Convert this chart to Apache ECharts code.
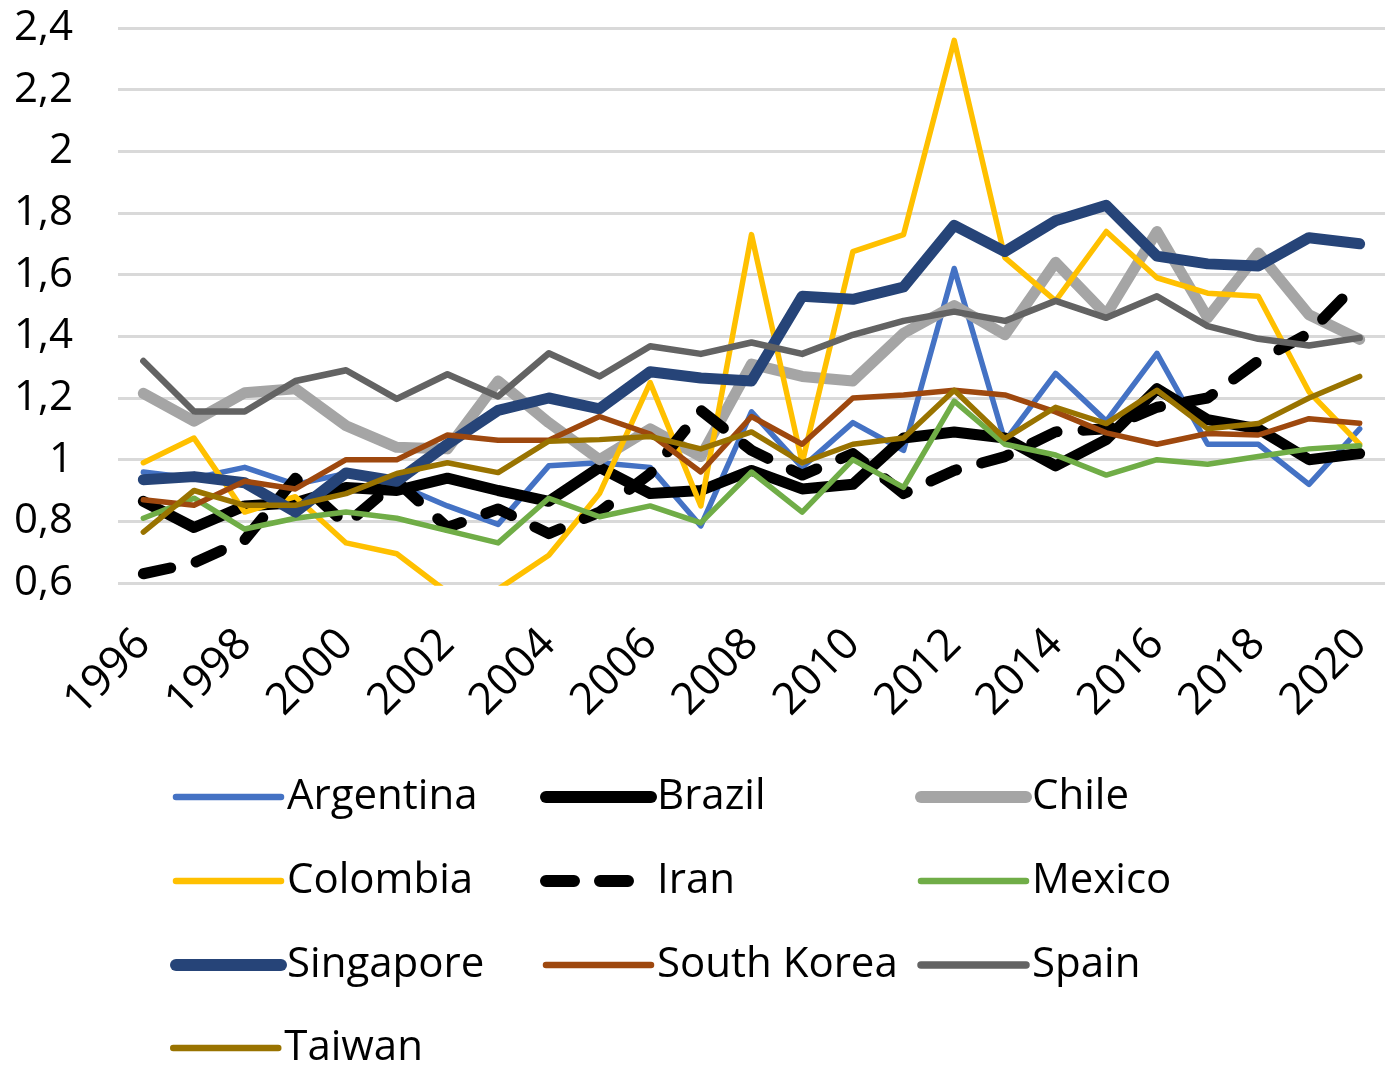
<!DOCTYPE html>
<html>
<head>
<meta charset="utf-8">
<script src="https://cdn.jsdelivr.net/npm/echarts@6/dist/echarts.min.js"></script>
<style>
  html, body { margin: 0; padding: 0; background: #fff; }
  #chart { width: 1385px; height: 1065px; }
</style>
</head>
<body>
<div id="chart"></div>
<script>
// years on the x axis
var years = ['1996', '1997', '1998', '1999', '2000', '2001', '2002', '2003', '2004', '2005', '2006', '2007', '2008',
    '2009', '2010', '2011', '2012', '2013', '2014', '2015', '2016', '2017', '2018', '2019', '2020']

// y axis ticks
var yMin = 0.6
var yMax = 2.4
var yStep = 0.2

// values
var argentina = [0.96, 0.94, 0.975, 0.92, 0.955, 0.92, 0.85, 0.79, 0.98, 0.99, 0.975, 0.785, 1.155, 0.975, 1.12, 1.03, 1.62, 1.06, 1.28, 1.125, 1.345, 1.05, 1.05, 0.92, 1.10]
var brazil = [0.865, 0.78, 0.85, 0.86, 0.91, 0.90, 0.94, 0.90, 0.865, 0.975, 0.89, 0.90, 0.965, 0.905, 0.92, 1.07, 1.09, 1.07, 0.98, 1.065, 1.23, 1.13, 1.10, 1.0, 1.02]
var chile = [1.215, 1.125, 1.217, 1.23, 1.11, 1.04, 1.035, 1.255, 1.12, 1.0, 1.1, 1.01, 1.31, 1.27, 1.255, 1.41, 1.5, 1.405, 1.64, 1.47, 1.74, 1.46, 1.67, 1.47, 1.39]
var colombia = [0.99, 1.07, 0.83, 0.88, 0.73, 0.695, 0.57, 0.58, 0.69, 0.89, 1.25, 0.85, 1.73, 0.99, 1.675, 1.73, 2.36, 1.655, 1.515, 1.74, 1.59, 1.54, 1.53, 1.22, 1.05]
var iran = [0.63, 0.665, 0.74, 0.94, 0.79, 0.93, 0.78, 0.84, 0.76, 0.83, 0.955, 1.16, 1.03, 0.95, 1.02, 0.89, 0.965, 1.01, 1.09, 1.1, 1.17, 1.2, 1.32, 1.41, 1.58]
var mexico = [0.81, 0.875, 0.775, 0.81, 0.83, 0.81, 0.77, 0.73, 0.875, 0.815, 0.85, 0.795, 0.96, 0.83, 1.0, 0.91, 1.19, 1.05, 1.015, 0.95, 1.0, 0.985, 1.01, 1.035, 1.045]
var singapore = [0.935, 0.945, 0.925, 0.83, 0.957, 0.93, 1.05, 1.16, 1.2, 1.165, 1.285, 1.265, 1.255, 1.53, 1.52, 1.56, 1.76, 1.675, 1.775, 1.825, 1.66, 1.635, 1.628, 1.72, 1.70]
var southKorea = [0.87, 0.852, 0.93, 0.905, 1.0, 1.0, 1.08, 1.063, 1.063, 1.14, 1.083, 0.96, 1.14, 1.05, 1.2, 1.21, 1.225, 1.21, 1.155, 1.087, 1.05, 1.085, 1.08, 1.133, 1.118]
var spain = [1.32, 1.156, 1.156, 1.255, 1.29, 1.197, 1.277, 1.205, 1.345, 1.27, 1.368, 1.343, 1.38, 1.343, 1.405, 1.45, 1.48, 1.45, 1.515, 1.46, 1.53, 1.433, 1.392, 1.37, 1.395]
var taiwan = [0.765, 0.9, 0.852, 0.852, 0.89, 0.955, 0.99, 0.958, 1.06, 1.065, 1.075, 1.035, 1.09, 0.99, 1.05, 1.07, 1.225, 1.068, 1.17, 1.117, 1.225, 1.1, 1.117, 1.2, 1.27]

var font = 'Open Sans'
var thin = 5.5
var thick = 11
var irDash = [28, 26]

function line(name, data, color, width, dash) {
    return {
        name: name,
        type: 'line',
        data: data,
        symbol: 'none',
        smooth: false,
        lineStyle: { color: color, width: width, type: dash || 'solid', cap: 'round', join: 'round' },
        itemStyle: { color: color },
        emphasis: { disabled: true }
    }
}

// one legend column, items are [name, width, dash]
function legendCol(left, top, items) {
    return {
        orient: 'vertical',
        left: left,
        top: top,
        padding: 0,
        itemWidth: 105,
        itemHeight: 14,
        itemGap: 42,
        itemStyle: { opacity: 0 },
        data: items.map(function (it) {
            return { name: it[0], lineStyle: { width: it[1] + 1, type: it[2] || 'solid', cap: 'round' } }
        }),
        textStyle: { fontFamily: font, fontSize: 42, color: '#000', padding: [0, 0, 0, 1] }
    }
}

var chart = echarts.init(document.getElementById('chart'))
var option = {
    animation: false,
    backgroundColor: '#fff',
    grid: { left: 118, right: -3, top: 28, bottom: 482, containLabel: false },
    xAxis: {
        type: 'category',
        data: years,
        boundaryGap: true,
        axisLine: { show: false },
        axisTick: { show: false },
        axisLabel: { interval: 1, rotate: 45, margin: 54, fontFamily: font, fontSize: 44, color: '#000' }
    },
    yAxis: {
        type: 'value',
        min: yMin,
        max: yMax,
        interval: yStep,
        axisLine: { show: false },
        axisTick: { show: false },
        splitLine: { lineStyle: { color: '#d9d9d9', width: 3 } },
        axisLabel: {
            margin: 45,
            fontFamily: font,
            fontSize: 42,
            color: '#000',
            formatter: function (v) { return String(Math.round(v * 10) / 10).replace('.', ',') }
        }
    },
    legend: [
        legendCol(170, 776, [['Argentina', thin], ['Colombia', thin], ['Singapore', thick]]),
        legendCol(170, 1027, [['Taiwan', thin]]),
        legendCol(540, 776, [['Brazil', thick], ['Iran', thick, irDash], ['South Korea', thin]]),
        legendCol(915, 776, [['Chile', thick], ['Mexico', thin], ['Spain', 6.5]])
    ],
    series: [
        line('Argentina', argentina, '#4472C4', thin),
        line('Brazil', brazil, '#000000', thick),
        line('Chile', chile, '#A5A5A5', thick),
        line('Colombia', colombia, '#FFC000', thin),
        line('Iran', iran, '#000000', thick, irDash),
        line('Mexico', mexico, '#70AD47', thin),
        line('Singapore', singapore, '#264478', thick),
        line('South Korea', southKorea, '#9E480E', thin),
        line('Spain', spain, '#636363', 6.5),
        line('Taiwan', taiwan, '#997300', thin)
    ]
}
chart.setOption(option)
</script>
</body>
</html>
